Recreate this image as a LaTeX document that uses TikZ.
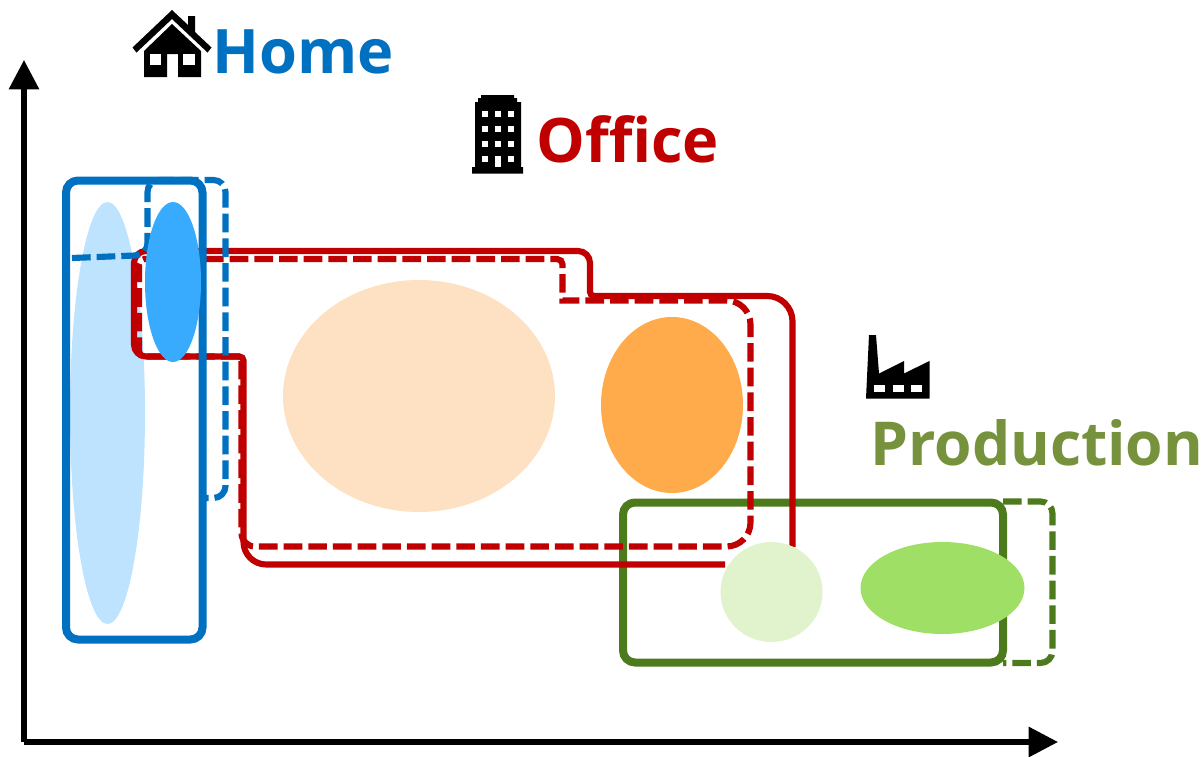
\documentclass[tikz,border=0pt]{standalone}
\usepackage{fontspec}
\setmainfont{Open Sans}
\usetikzlibrary{arrows.meta}
\definecolor{homeblue}{RGB}{0,112,192}
\definecolor{officered}{RGB}{192,0,0}
\definecolor{prodgreen}{RGB}{76,122,28}
\definecolor{prodtext}{RGB}{118,146,60}
\tikzset{
  solidzone/.style={line width=6pt,rounded corners=9pt},
  redzone/.style={line width=4.6pt,rounded corners=9pt},
  dashzone/.style={line width=4.6pt,rounded corners=9pt,dash pattern=on 14pt off 4.5pt},
  axisline/.style={line width=3.8pt,-{Triangle[length=22pt,width=22pt]}},
  caption/.style={anchor=base west,inner sep=0pt,font=\fontsize{#1}{50}\selectfont\bfseries},
  caption/.default=46
}
\begin{document}
\begin{tikzpicture}[x=0.75pt,y=0.75pt,yscale=-1,xscale=1]
\useasboundingbox (0,0) rectangle (1204,757);
% production zone
\draw [solidzone,color=prodgreen] (623,502.5) rectangle (1003,662.5);
\draw [dashzone,color=prodgreen] (1003,501.5) -- (1052.5,501.5) -- (1052.5,663) -- (1003,663);
% home cluster under the office lines
\fill [color={rgb,255:red,189;green,227;blue,255}] (107.5,413) ellipse (37.5 and 211);
% office zone
\draw [redzone,color=officered] (792.5,547) [rounded corners=19pt] -- (792.5,296) [rounded corners=3pt] -- (590,296) [rounded corners=9pt] -- (590,251) -- (134,251) -- (134,356.5) [rounded corners=3pt] -- (243.5,356.5) [rounded corners=17pt] -- (243.5,564.5) -- (725,564.5);
\draw [dashzone,color=officered] (205,259) [rounded corners=4pt] -- (562.5,259) [sharp corners] -- (562.5,300.5) [rounded corners=18pt] -- (750.5,300.5) -- (750.5,546.5) [rounded corners=10pt] -- (241.5,546.5) [sharp corners] -- (241.5,356.5) [rounded corners=4pt] -- (139,356.5) -- (139,259) -- (205,259);
% home zone
\draw [solidzone,color=homeblue] (66,180.5) rectangle (202.5,639.5);
\draw [dashzone,color=homeblue] (72,258) -- (147.5,255) -- (147.5,180) -- (225.5,180) -- (225.5,498) -- (205,498);
% clusters
\fill [color={rgb,255:red,56;green,171;blue,255}] (173,282) ellipse (28 and 80);
\fill [color={rgb,255:red,254;green,225;blue,195}] (419,396) ellipse (136 and 116);
\fill [color={rgb,255:red,255;green,171;blue,75}] (672,405) ellipse (71 and 88);
\fill [color={rgb,255:red,224;green,243;blue,205}] (771.5,592) ellipse (51 and 50);
\fill [color={rgb,255:red,160;green,223;blue,102}] (942.5,588) ellipse (82 and 46);
% axes
\coordinate (origin) at (24,742);
\coordinate (ytip) at (24,60);
\coordinate (xtip) at (1058,742);
\draw [axisline] (origin) -- (ytip);
\draw [axisline] (origin) -- (xtip);
% house
\fill (172,10) -- (188,25) -- (188,16) -- (195,16) -- (195,32) -- (211.5,47.5) -- (207.5,52.5) -- (172,19) -- (136.5,52.5) -- (132.5,47.5) -- cycle;
\fill (172,24) -- (201,51) -- (201,77) -- (178,77) -- (178,54) -- (167,54) -- (167,77) -- (144,77) -- (144,51) -- cycle;
\fill [white] (150,54) rectangle (161,65);
\fill [white] (183,54) rectangle (195,65);
% tower
\fill (481,95) -- (514,95) -- (514,98) -- (517,98) -- (517,102) -- (521,102) -- (521,167) -- (523,167) -- (523,173.5) -- (472,173.5) -- (472,167) -- (475,167) -- (475,102) -- (478,102) -- (478,98) -- (481,98) -- cycle;
\foreach \wx in {485,497.5,510.5}
  \foreach \wy in {113.5,128.5,143.5,158.5}
    \fill [white] (\wx-3,\wy-3) rectangle (\wx+3,\wy+3);
\fill [white] (495,156) rectangle (500.5,167);
% factory
\fill (869,335) -- (876,335) -- (879,373.5) -- (904,361) -- (904,373.5) -- (929.5,361) -- (929.5,398.5) -- (866,398.5) -- cycle;
\fill [white] (873.5,384.5) rectangle (885,391.5);
\fill [white] (892.5,384.5) rectangle (903.5,391.5);
\fill [white] (911,384.5) rectangle (922,391.5);
% labels
\node [caption,text=homeblue] (home) at (212,73) {Home};
\node [caption,text=officered] (office) at (536,162) {Office};
\node [caption=45.4,text=prodtext] (production) at (870,465) {Production};
\end{tikzpicture}
\end{document}
